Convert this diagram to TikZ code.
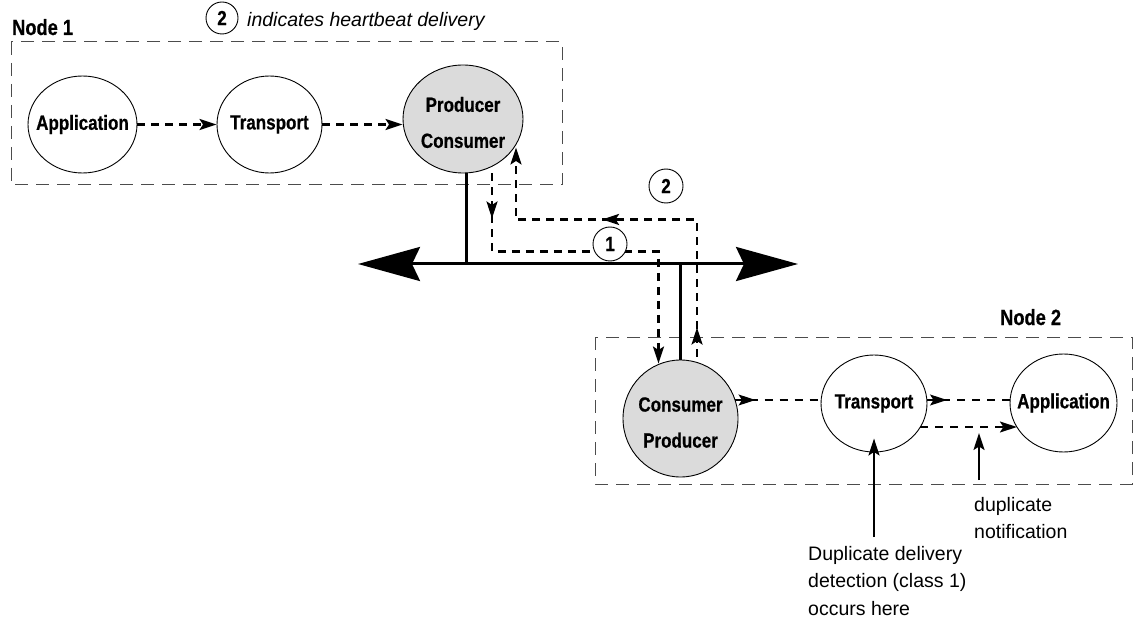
\documentclass[tikz,border=0pt]{standalone}
\usepackage{fontspec}
\setmainfont{Liberation Sans}
\newfontfamily\heavynarrow{Liberation Sans Bold}[FakeStretch=0.83, FakeBold=0.6]
\usetikzlibrary{shapes.geometric,arrows.meta,calc,decorations.markings}

\tikzset{
  lab/.style={font=\heavynarrow\fontsize{20.5}{36}\selectfont, inner sep=0pt},
  note/.style={font=\fontsize{19.5}{27.5}\selectfont, inner sep=0pt, align=left},
  nodebox/.style={draw=black!70, line width=1pt, dash pattern=on 13pt off 8pt},
  proc/.style={ellipse, draw, line width=0.9pt, inner sep=0pt},
  tag/.style={circle, draw, fill=white, line width=0.9pt, inner sep=0pt, minimum size=34pt,
              font=\heavynarrow\fontsize{20.5}{24}\selectfont},
  tip/.tip={Stealth[length=17pt,width=11pt,inset=3.5pt]},
  flow/.style={line width=2.3pt, dash pattern=on 8pt off 6pt},
  lightflow/.style={line width=1.4pt, dash pattern=on 8pt off 7pt},
  link/.style={line width=2.5pt},
  pointer/.style={line width=2.2pt, -tip},
  marktip/.style={postaction={decorate}, decoration={markings,
      mark=at position #1 with {\arrow{tip}}}},
  marktwo/.style 2 args={postaction={decorate}, decoration={markings,
      mark=at position #1 with {\arrow{tip}},
      mark=at position #2 with {\arrow{tip}}}},
  bigtip/.tip={Stealth[length=62pt,width=34pt,inset=8pt]}
}

\begin{document}
\begin{tikzpicture}[x=1pt,y=-1pt]
\fill[white] (0,0) rectangle (1137,620);
\useasboundingbox (0,0) rectangle (1137,620);

% station boundaries
\draw[nodebox] (11,42) rectangle (562,185);
\draw[nodebox] (595,337) rectangle (1132,484);
\node[lab, font=\heavynarrow\fontsize{22}{26}\selectfont, anchor=base west] (n1) at (12,35) {Node 1};
\node[lab, font=\heavynarrow\fontsize{22}{26}\selectfont, anchor=base west] (n2) at (1000,325) {Node 2};

% legend
\node[tag, minimum size=32pt] (leg) at (222,18) {2};
\node[font=\itshape\fontsize{19.5}{24}\selectfont, inner sep=0pt, anchor=base west] (legtext) at (247,27) {indicates heartbeat delivery};

% processes of node 1
\node[proc, minimum width=109pt, minimum height=97pt, label={[lab]center:Application}] (app1) at (82.5,124.5) {};
\node[proc, minimum width=105pt, minimum height=97pt, label={[lab]center:Transport}] (tr1) at (269.5,124.5) {};
\node[proc, fill=black!14, minimum width=120pt, minimum height=108pt,
      label={[lab, align=center, yshift=-3.5pt]center:Producer\\Consumer}] (pc1) at (463,119) {};

% processes of node 2
\node[proc, fill=black!14, minimum width=115pt, minimum height=117pt,
      label={[lab, align=center, yshift=-4pt]center:Consumer\\Producer}] (cp2) at (680.5,418.5) {};
\node[proc, minimum width=106pt, minimum height=97pt, label={[lab]center:Transport}] (tr2) at (874,403.5) {};
\node[proc, minimum width=107pt, minimum height=98pt, label={[lab]center:Application}] (app2) at (1063.5,403) {};

% network bus and drops
\coordinate (busL) at (358,264);
\coordinate (busR) at (798,264);
\draw[line width=3pt, bigtip-bigtip] (busL) -- (busR);
\coordinate (pcdrop) at ($(pc1.south)+(3.5,0)$);
\draw[link] (pcdrop) -- (pcdrop |- busL);
\draw[link] (cp2.north) -- (cp2.north |- busL);

% flows inside node 1
\draw[flow, -tip] (app1.east) -- (tr1.west);
\draw[flow, -tip] (tr1.east) -- (tr1.east -| pc1.west);

% class 1 delivery from node 1 to node 2
\coordinate (d0) at ($(pc1.south)+(29,0)$);
\coordinate (d1) at ($(cp2.north)+(-22,-108)$);
\coordinate (d2) at ($(cp2.north)+(-22,4)$);
\draw[flow, -tip, marktip=45pt] (d0) |- (d1) -- (d2);

% heartbeat returned from node 2 to node 1
\coordinate (u0) at ($(cp2.north)+(16.5,-3)$);
\coordinate (u1) at ($(pc1.south)+(53,46)$);
\coordinate (u2) at ($(pc1.south)+(53,-26)$);
\draw[flow, -tip, marktwo={29pt}{232pt}] (u0) |- (u1) -- (u2);

\node[tag] (one) at (610,244) {1};
\node[tag] (two) at (666,186) {2};

% flows inside node 2
\coordinate (c0) at ($(cp2.center)+(54,-18.5)$);
\draw[lightflow, marktip=21pt] (c0) -- (c0 -| tr2.west);
\coordinate (t0) at ($(tr2.center)+(53,-3.5)$);
\draw[lightflow, marktip=20pt] (t0) -- (t0 -| app2.west);
\coordinate (la) at ($(tr2.center)+(46.4,23.5)$);
\coordinate (lb) at ($(app2.center)+(-46.6,24)$);
\draw[lightflow, -tip] (la) -- (lb);

% annotations
\node[note, anchor=north west] (dup) at (974,497) {duplicate\\notification};
\node[note, anchor=north west] (det) at (808,546) {Duplicate delivery\\detection (class 1)\\occurs here};
\draw[pointer] ($(dup.north west)+(5,-17)$) -- ($(dup.north west)+(5,-64)$);
\draw[pointer] ($(det.north west)+(66,-9)$) -- ($(tr2.south)+(0,-14)$);
\end{tikzpicture}
\end{document}
